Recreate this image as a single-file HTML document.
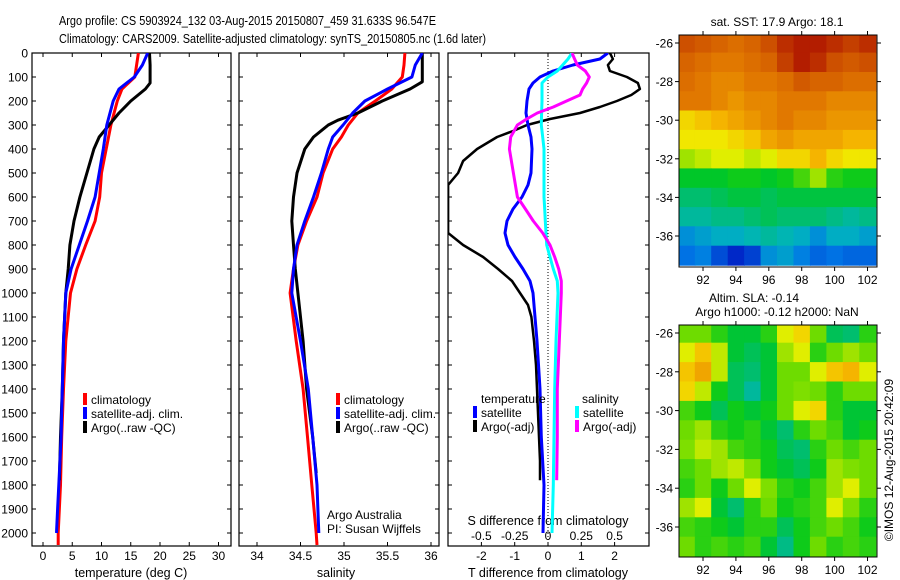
<!DOCTYPE html>
<html><head><meta charset="utf-8"><style>
html,body{margin:0;padding:0;background:#fff;}
svg{display:block;font-family:"Liberation Sans",sans-serif;}
</style></head><body>
<svg id="chart" width="900" height="580" viewBox="0 0 900 580" xmlns="http://www.w3.org/2000/svg">
<rect width="900" height="580" fill="#fff"/>
<text x="59" y="25" font-size="13" textLength="377" lengthAdjust="spacingAndGlyphs">Argo profile: CS 5903924_132 03-Aug-2015 20150807_459 31.633S 96.547E</text>
<text x="59" y="43" font-size="13" textLength="427" lengthAdjust="spacingAndGlyphs">Climatology: CARS2009. Satellite-adjusted climatology: synTS_20150805.nc (1.6d later)</text>
<g id="g"></g>
</svg>
<script>
// ---------- data ----------
const depthClim = [0,50,100,150,200,300,400,500,600,700,800,900,1000,1200,1400,1600,1800,2000,2050];
const tempClim  = [16.3,16.0,15.7,13.5,12.7,11.6,10.8,10.0,9.7,8.9,7.3,5.8,4.7,3.9,3.5,3.2,3.0,2.6,2.6];
const depthSat  = [0,50,100,150,200,300,400,500,600,700,800,900,1000,1200,1400,1600,1800,1900,2000];
const tempSat   = [17.9,17.0,15.6,13.0,12.0,10.9,10.3,9.6,8.9,7.6,6.2,4.8,3.9,3.5,3.3,3.1,2.7,2.5,2.3];
const depthArgo = [0,50,100,125,150,200,250,300,350,400,500,600,700,800,900,1000,1200,1400,1600,1780];
const tempArgo  = [18.2,18.3,18.3,18.3,17.5,15.0,13.0,11.3,9.6,8.7,7.5,6.3,5.3,4.6,4.3,3.9,3.5,3.3,3.0,2.8];

const salDepthClim = [0,50,100,150,200,250,300,350,400,500,600,700,800,900,1000,1200,1400,1600,1800,2000,2050];
const salClim = [35.70,35.69,35.67,35.55,35.36,35.16,35.05,34.97,34.87,34.76,34.69,34.57,34.47,34.42,34.38,34.45,34.53,34.58,34.63,34.68,34.69];
const salDepthSat = [0,50,100,150,200,250,300,350,400,500,600,700,800,900,1000,1200,1400,1600,1800,2000];
const salSat = [35.90,35.82,35.78,35.50,35.24,35.10,34.99,34.87,34.82,34.74,34.65,34.55,34.46,34.42,34.40,34.50,34.59,34.64,34.69,34.71];
const salDepthArgo = [0,100,120,150,200,250,280,300,350,400,500,600,700,800,900,1000,1200,1400,1600,1750];
const salArgo = [35.90,35.90,35.90,35.76,35.44,35.16,34.93,34.82,34.65,34.55,34.46,34.42,34.40,34.42,34.44,34.47,34.53,34.57,34.64,34.68];

const dDepthArgo = [0,25,50,75,100,125,150,175,200,225,250,275,300,325,350,400,450,500,550,750,800,850,900,950,1000,1050,1100,1200,1300,1400,1500,1600,1700,1780];
const dTempArgo  = [1.86,1.95,1.8,1.86,2.37,2.7,2.76,2.5,2.07,1.56,0.96,0.06,-0.63,-1.05,-1.53,-2.13,-2.55,-2.7,-3.0,-3.0,-2.55,-1.95,-1.5,-1.08,-0.84,-0.6,-0.5,-0.42,-0.36,-0.33,-0.3,-0.27,-0.24,-0.24];
const dSalDepthArgo = [0,25,50,75,100,125,150,175,200,225,250,275,300,350,400,500,600,650,700,750,800,850,900,950,1000,1200,1400,1600,1780];
const dSalArgo   = [0.18,0.2,0.22,0.28,0.31,0.29,0.26,0.24,0.14,0.04,-0.08,-0.16,-0.23,-0.28,-0.29,-0.26,-0.23,-0.17,-0.11,-0.04,0.015,0.05,0.08,0.1,0.1,0.085,0.07,0.07,0.065];
const dDepthSat  = [0,25,50,75,100,125,150,200,250,300,350,400,500,550,600,650,700,750,800,850,900,950,1000,1200,1400,1600,1800,2000];
const dTempSat   = [1.8,1.56,0.75,0.15,-0.24,-0.45,-0.57,-0.63,-0.66,-0.6,-0.51,-0.48,-0.51,-0.6,-0.78,-1.05,-1.23,-1.29,-1.2,-0.99,-0.75,-0.54,-0.45,-0.33,-0.24,-0.2,-0.12,-0.15];
const dSalSat    = [0.18,0.15,0.11,0.07,0,-0.045,-0.045,-0.045,-0.048,-0.05,-0.04,-0.03,-0.03,-0.03,-0.03,-0.025,-0.02,-0.015,-0.01,0.015,0.04,0.07,0.075,0.06,0.05,0.045,0.04,0.03];

const depthTicks = [0,100,200,300,400,500,600,700,800,900,1000,1100,1200,1300,1400,1500,1600,1700,1800,1900,2000];
const tempTicks = [0,5,10,15,20,25,30];
const salTicks = [34,34.5,35,35.5,36];
const dTTicks = [-2,-1,0,1,2];
const dSTicks = [-0.5,-0.25,0,0.25,0.5];
const dSTickLabels = ["-0.5","-0.25","0","0.25","0.5"];

const mapLons = [91,92,93,94,95,96,97,98,99,100,101,102];
const mapLats = [-26,-27,-28,-29,-30,-31,-32,-33,-34,-35,-36,-37];
const lonTicks = [92,94,96,98,100,102];
const latTicks = [-26,-28,-30,-32,-34,-36];
const sstGrid = [
[.86,.84,.82,.80,.82,.86,.90,.92,.92,.90,.88,.90],
[.82,.80,.78,.78,.80,.82,.88,.92,.90,.86,.84,.86],
[.80,.78,.76,.76,.78,.78,.80,.84,.82,.82,.80,.80],
[.78,.78,.76,.74,.76,.76,.78,.78,.78,.76,.76,.76],
[.66,.68,.70,.72,.74,.76,.78,.76,.76,.74,.74,.74],
[.64,.64,.64,.66,.68,.72,.74,.72,.72,.72,.70,.70],
[.58,.60,.62,.62,.60,.62,.66,.66,.70,.66,.64,.64],
[.46,.46,.46,.48,.48,.46,.48,.52,.58,.50,.48,.48],
[.40,.40,.42,.44,.44,.42,.44,.44,.44,.44,.44,.44],
[.36,.36,.38,.38,.40,.42,.40,.40,.40,.38,.36,.38],
[.28,.30,.32,.32,.34,.36,.34,.32,.28,.32,.32,.30],
[.24,.26,.18,.12,.16,.28,.30,.26,.22,.24,.22,.22]];
const slaGrid = [
[.55,.55,.50,.45,.45,.50,.62,.66,.55,.42,.40,.50],
[.62,.68,.60,.45,.42,.45,.58,.62,.50,.55,.58,.55],
[.68,.72,.60,.42,.40,.45,.55,.55,.62,.68,.70,.62],
[.66,.60,.48,.42,.36,.45,.55,.56,.55,.50,.55,.55],
[.52,.48,.42,.48,.45,.48,.55,.62,.66,.50,.45,.45],
[.55,.58,.50,.48,.50,.45,.40,.50,.55,.52,.45,.48],
[.56,.60,.58,.52,.50,.48,.42,.40,.50,.55,.52,.55],
[.52,.55,.58,.60,.56,.48,.45,.42,.48,.58,.56,.55],
[.50,.55,.48,.55,.62,.56,.50,.48,.52,.58,.62,.55],
[.58,.62,.45,.40,.50,.55,.48,.50,.52,.62,.56,.50],
[.52,.50,.48,.45,.50,.50,.42,.48,.52,.55,.52,.48],
[.55,.50,.52,.50,.52,.45,.38,.48,.55,.50,.52,.50]];

// ---------- helpers ----------
const NS = "http://www.w3.org/2000/svg";
const G = document.getElementById('g');
function el(tag, attrs, parent){ const e=document.createElementNS(NS,tag); for(const k in attrs) e.setAttribute(k,attrs[k]); (parent||G).appendChild(e); return e; }
function txt(x,y,s,size,anchor,parent){ const t=el('text',{x:x,y:y,'font-size':size,'text-anchor':anchor||'start'},parent); t.textContent=s; return t; }

const yTop=53, yBot=546;
function yD(d){ return 53 + 0.24*d; }
function xT(t){ return 43 + 5.85*t; }
function xS(s){ return 257 + 87*(s-34); }
function xDT(t){ return 548 + 33.3*t; }
function xDS(s){ return 548 + 133.2*s; }

const panels = [{n:'temperature-panel',x0:32,x1:231},{n:'salinity-panel',x0:239,x1:439},{n:'difference-panel',x0:448,x1:649}];
panels.forEach(p=>{
  const r = el('rect',{x:p.x0,y:yTop,width:p.x1-p.x0,height:yBot-yTop,fill:'none',stroke:'#000','stroke-width':1.2});
  
  
  depthTicks.forEach(d=>{
    el('line',{x1:p.x0,x2:p.x0+4,y1:yD(d),y2:yD(d),stroke:'#000'});
    el('line',{x1:p.x1,x2:p.x1-4,y1:yD(d),y2:yD(d),stroke:'#000'});
  });
  const cp = el('clipPath',{id:'clip-'+p.n});
  el('rect',{x:p.x0,y:yTop,width:p.x1-p.x0,height:yBot-yTop},cp);
});
depthTicks.forEach(d=>{
  const t = txt(28,yD(d)+4.5,String(d),12,'end');
  
  
});
tempTicks.forEach(v=>{
  el('line',{x1:xT(v),x2:xT(v),y1:yTop,y2:yTop+4,stroke:'#000'});
  el('line',{x1:xT(v),x2:xT(v),y1:yBot,y2:yBot-4,stroke:'#000'});
  const t = txt(xT(v),560,String(v),12,'middle');
  
  
});
salTicks.forEach(v=>{
  el('line',{x1:xS(v),x2:xS(v),y1:yTop,y2:yTop+4,stroke:'#000'});
  el('line',{x1:xS(v),x2:xS(v),y1:yBot,y2:yBot-4,stroke:'#000'});
  const t = txt(xS(v),560,String(v),12,'middle');
  
  
});
dTTicks.forEach(v=>{
  el('line',{x1:xDT(v),x2:xDT(v),y1:yBot,y2:yBot-4,stroke:'#000'});
  const t = txt(xDT(v),560,String(v),12,'middle');
  
  
});
dSTicks.forEach((v,i)=>{
  el('line',{x1:xDS(v),x2:xDS(v),y1:yTop,y2:yTop+4,stroke:'#000'});
  const t = txt(xDS(v),540,dSTickLabels[i],12,'middle');
  
  
});
let a;
a = txt(131,577,'temperature (deg C)',12.5,'middle');  
a = txt(336,577,'salinity',12.5,'middle');  
a = txt(548,577,'T difference from climatology',12.5,'middle');  
a = txt(548,525,'S difference from climatology',12.5,'middle');  
a = el('line',{x1:548,x2:548,y1:yTop,y2:yBot,stroke:'#000','stroke-dasharray':'1,2'});
 

function line(xs, ds, xf, color, clip, name, w){
  const pts = xs.map((v,i)=>xf(v).toFixed(1)+','+yD(ds[i]).toFixed(1)).join(' ');
  const p = el('polyline',{points:pts,fill:'none',stroke:color,'stroke-width':w||3,'clip-path':'url(#clip-'+clip+')','stroke-linejoin':'round'});
  
  
}
line(tempClim, depthClim, xT, '#ff0000','temperature-panel','temp-climatology-line');
line(tempArgo, depthArgo, xT, '#000000','temperature-panel','temp-argo-line');
line(tempSat, depthSat, xT, '#0000ff','temperature-panel','temp-satellite-line');
line(salClim, salDepthClim, xS, '#ff0000','salinity-panel','sal-climatology-line');
line(salArgo, salDepthArgo, xS, '#000000','salinity-panel','sal-argo-line');
line(salSat, salDepthSat, xS, '#0000ff','salinity-panel','sal-satellite-line');
line(dTempArgo, dDepthArgo, xDT, '#000000','difference-panel','t-diff-argo-line',2.5);
line(dTempSat, dDepthSat, xDT, '#0000ff','difference-panel','t-diff-satellite-line');
line(dSalSat, dDepthSat, xDS, '#00ffff','difference-panel','s-diff-satellite-line');
line(dSalArgo, dSalDepthArgo, xDS, '#ff00ff','difference-panel','s-diff-argo-line');

function legendEntry(x,y,color,label,name){
  const g = el('g',{});
  
  
  el('rect',{x:x,y:y-11,width:4,height:12,fill:color},g);
  txt(x+8,y,label,12,'start',g);
}
legendEntry(83,404,'#ff0000','climatology','legend-climatology');
legendEntry(83,418,'#0000ff','satellite-adj. clim.','legend-satellite-adj');
legendEntry(83,432,'#000000','Argo(..raw -QC)','legend-argo');
legendEntry(336,404,'#ff0000','climatology','legend-sal-climatology');
legendEntry(336,418,'#0000ff','satellite-adj. clim.','legend-sal-satellite-adj');
legendEntry(336,432,'#000000','Argo(..raw -QC)','legend-sal-argo');
a = txt(481,403,'temperature',12);  
a = txt(582,403,'salinity',12);  
legendEntry(473,417,'#0000ff','satellite','legend-t-satellite');
legendEntry(473,431,'#000000','Argo(-adj)','legend-t-argo');
legendEntry(575,417,'#00ffff','satellite','legend-s-satellite');
legendEntry(575,431,'#ff00ff','Argo(-adj)','legend-s-argo');
a = txt(327,519,'Argo Australia',12);  
a = txt(327,533,'PI: Susan Wijffels',12);  

// ---------- maps ----------
const stops=[[0,[0,0,130]],[0.12,[0,40,200]],[0.25,[0,120,230]],[0.33,[0,180,190]],[0.4,[0,190,110]],[0.47,[0,200,30]],[0.55,[110,220,0]],[0.63,[240,240,0]],[0.7,[245,180,0]],[0.78,[225,120,0]],[0.86,[205,80,0]],[0.93,[175,20,0]],[1,[140,0,0]]];
function cmap(v){
  for(let i=1;i<stops.length;i++){ if(v<=stops[i][0]){ const [a0,c0]=stops[i-1],[a1,c1]=stops[i]; const f=(v-a0)/(a1-a0); return 'rgb('+c0.map((c,j)=>Math.round(c+(c1[j]-c)*f)).join(',')+')'; } }
  return 'rgb(140,0,0)';
}
function drawMap(cfg){
  const xL=v=>cfg.x0+(v-90.54)*16.45, yL=v=>cfg.latY(v);
  const cp = el('clipPath',{id:'clip-'+cfg.n}); el('rect',{x:cfg.x0,y:cfg.y0,width:cfg.x1-cfg.x0,height:cfg.y1-cfg.y0},cp);
  const g = el('g',{'clip-path':'url(#clip-'+cfg.n+')'});
  
  
  cfg.grid.forEach((row,i)=>row.forEach((v,j)=>{
    const c = el('rect',{x:xL(mapLons[j]-0.5).toFixed(1),y:yL(mapLats[i]+0.5).toFixed(1),width:(16.45+0.6).toFixed(1),height:(19.35+0.6).toFixed(1),fill:cmap(v)},g);
    
    
  }));
  const f = el('rect',{x:cfg.x0,y:cfg.y0,width:cfg.x1-cfg.x0,height:cfg.y1-cfg.y0,fill:'none',stroke:'#000'});
  
  
  lonTicks.forEach(v=>{
    el('line',{x1:xL(v),x2:xL(v),y1:cfg.y0,y2:cfg.y0-4,stroke:'#000'});
    el('line',{x1:xL(v),x2:xL(v),y1:cfg.y1,y2:cfg.y1+4,stroke:'#000'});
    const t = txt(xL(v),cfg.y1+17,String(v),12,'middle');
    
    
  });
  latTicks.forEach(v=>{
    el('line',{x1:cfg.x0,x2:cfg.x0-4,y1:yL(v),y2:yL(v),stroke:'#000'});
    el('line',{x1:cfg.x1,x2:cfg.x1+4,y1:yL(v),y2:yL(v),stroke:'#000'});
    const t = txt(673,yL(v)+4.5,String(v),12,'end');
    
    
  });
}
drawMap({n:'sst-map',x0:679,x1:877,y0:35,y1:267,grid:sstGrid,latY:v=>43+(-26-v)*19.3});
drawMap({n:'sla-map',x0:679,x1:877,y0:325,y1:557,grid:slaGrid,latY:v=>333+(-26-v)*19.4});
a = txt(777,26,'sat. SST: 17.9 Argo: 18.1',12,'middle');  
a = txt(709,302,'Altim. SLA: -0.14',12,'start');  
a = txt(777,316,'Argo h1000: -0.12 h2000: NaN',12,'middle');  
a = txt(0,0,'©IMOS 12-Aug-2015 20:42:09',12,'middle'); a.setAttribute('transform','translate(893,460) rotate(-90)');
 
</script>
</body></html>
